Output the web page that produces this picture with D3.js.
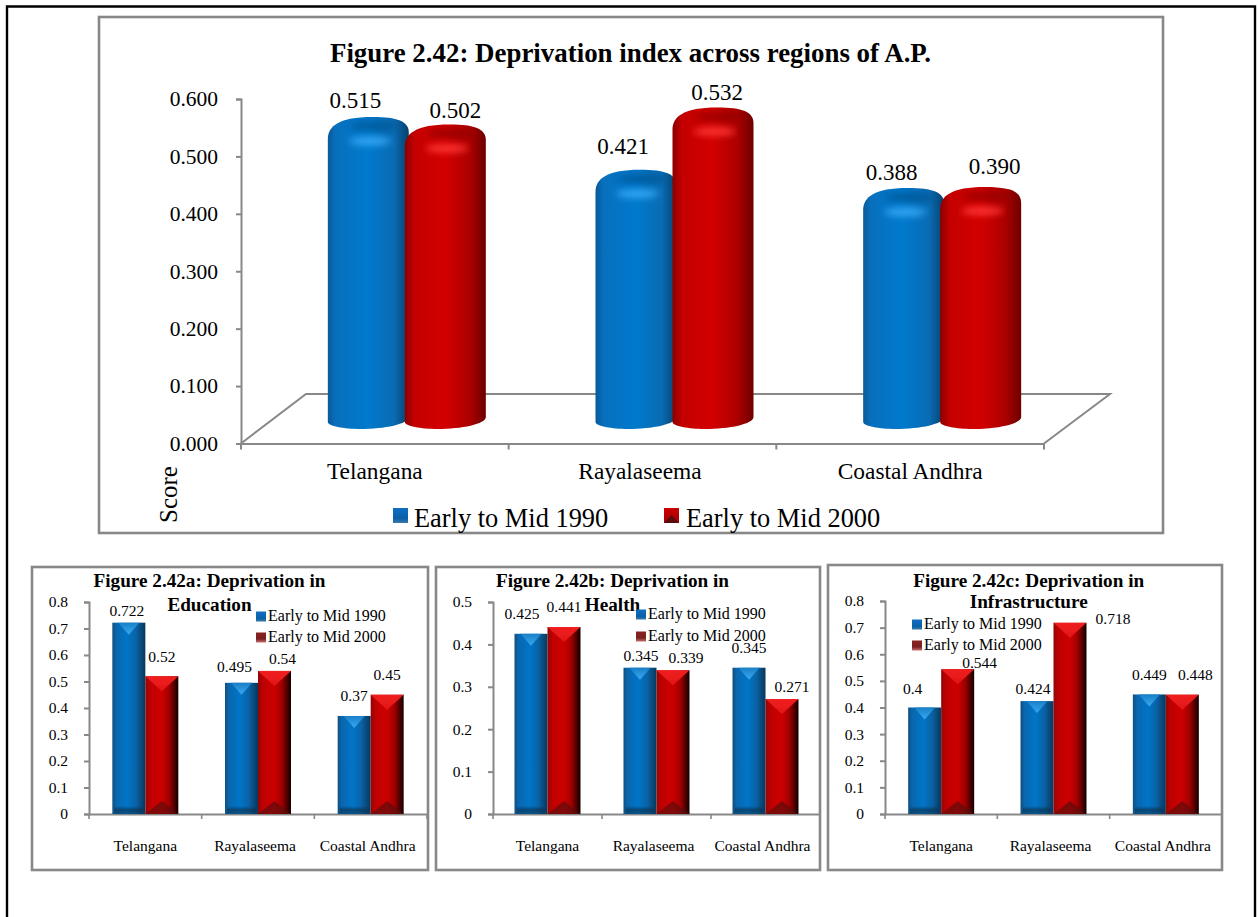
<!DOCTYPE html>
<html>
<head>
<meta charset="utf-8">
<script src="https://cdn.jsdelivr.net/npm/d3@7"></script>
<style>
html,body{margin:0;padding:0;background:#fff;overflow:hidden}
svg{display:block}
text{font-family:"Liberation Serif","Times New Roman",serif;fill:#000}
</style>
</head>
<body>
<svg id="c" width="1259" height="917"></svg>
<script>
// ---- data ----
const categories = ["Telangana", "Rayalaseema", "Coastal Andhra"];
const seriesNames = ["Early to Mid 1990", "Early to Mid 2000"];
const overallEarly = [0.515, 0.421, 0.388];
const overallLate = [0.502, 0.532, 0.390];
const educationEarly = [0.722, 0.495, 0.37];
const educationLate = [0.52, 0.54, 0.45];
const healthEarly = [0.425, 0.345, 0.345];
const healthLate = [0.441, 0.339, 0.271];
const infraEarly = [0.4, 0.424, 0.449];
const infraLate = [0.544, 0.718, 0.448];
const overallTicks = [0, 0.1, 0.2, 0.3, 0.4, 0.5, 0.6];
const eightTicks = [0, 0.1, 0.2, 0.3, 0.4, 0.5, 0.6, 0.7, 0.8];
const fiveTicks = [0, 0.1, 0.2, 0.3, 0.4, 0.5];

// ---- layout (label nudges are [dx, dy] per series and category) ----
const overallShift = [[[-13,-32],[-13,-39],[-12,-31]],[[10,-29],[4,-31],[14,-36]]];
const educationShift = [[[-2,-12],[-7,-16],[0,-20]],[[0,-19],[8,-12],[0,-20]]];
const healthShift = [[[-9,-20],[1,-12],[0,-20]],[[0,-20],[13,-12],[10,-12]]];
const infraShift = [[[-12,-19],[-4,-12],[0,-19]],[[22,-6],[43,-4],[13,-20]]];
const smallLabelNudge = [0, -3, -3];

const svg = d3.select("#c");
const defs = svg.append("defs");
const GRAY = "#888888";

function hGrad(id, stops){
  const g = defs.append("linearGradient").attr("id", id).attr("x1",0).attr("x2",1).attr("y1",0).attr("y2",0);
  stops.forEach(s => g.append("stop").attr("offset", s[0]).attr("stop-color", s[1]));
}
function vGrad(id, stops){
  const g = defs.append("linearGradient").attr("id", id).attr("x1",0).attr("x2",0).attr("y1",0).attr("y2",1);
  stops.forEach(s => g.append("stop").attr("offset", s[0]).attr("stop-color", s[1]).attr("stop-opacity", s[2] === undefined ? 1 : s[2]));
}
hGrad("cylB", [[0,"#0a5a98"],[0.1,"#0870bd"],[0.5,"#0079cd"],[0.82,"#0a6bb2"],[1,"#06406c"]]);
hGrad("cylR", [[0,"#8a0000"],[0.12,"#c40000"],[0.5,"#d20000"],[0.8,"#ac0000"],[1,"#6e0000"]]);
hGrad("barB", [[0,"#10507f"],[0.12,"#0a66ad"],[0.45,"#0075c8"],[0.72,"#0a62a5"],[1,"#07375c"]]);
hGrad("barR", [[0,"#8c0808"],[0.15,"#c00000"],[0.5,"#cc0000"],[0.72,"#a00000"],[1,"#120000"]]);
vGrad("triB", [[0,"#1a80c8"],[1,"#38a8f0"]]);
vGrad("triR", [[0,"#f02020"],[1,"#e21616"]]);
vGrad("baseB", [[0,"#0b3250",0],[0.5,"#0b3250",0.7],[1,"#0b3c60",0.5]]);
vGrad("baseR", [[0,"#4a0a0a",0.6],[1,"#5a1010",0.65]]);
vGrad("swB", [[0,"#0f6fc0"],[0.7,"#0a5fa6"],[1,"#3a7aac"]]);
vGrad("swR", [[0,"#8a2222"],[0.65,"#7a2020"],[1,"#c87070"]]);
vGrad("swMainR", [[0,"#c80000"],[1,"#a80000"]]);
const blur = defs.append("filter").attr("id","soft").attr("x","-40%").attr("y","-100%").attr("width","180%").attr("height","300%");
blur.append("feGaussianBlur").attr("stdDeviation", 3.5);
const blur1 = defs.append("filter").attr("id","soft1");
blur1.append("feGaussianBlur").attr("stdDeviation", 0.5);

// page frame: left, top and right rules only
svg.append("path").attr("d","M7,917V6.5H1255V917").attr("fill","none").attr("stroke","#000").attr("stroke-width",2.4);

function box(x0,y0,x1,y1){
  svg.append("rect").attr("x",x0).attr("y",y0).attr("width",x1-x0).attr("height",y1-y0)
    .attr("fill","#fff").attr("stroke",GRAY).attr("stroke-width",2.6);
}
function styleAxis(g, size){
  g.selectAll("path").attr("stroke",GRAY).attr("stroke-width",2).attr("fill","none");
  g.selectAll("line").attr("stroke",GRAY).attr("stroke-width",2);
  g.selectAll("text").attr("font-family",'"Liberation Serif"').attr("font-size",size).attr("fill","#000");
}

// ---------- main chart ----------
box(99,17,1163,533);
(function(){
  const y = d3.scaleLinear().domain([0,0.6]).range([443.5,99]);
  const barY = d3.scaleLinear().domain([0,0.6]).range([420,84.6]);
  const x = d3.scaleBand().domain(categories).range([241,1044]);
  const sx = d3.scaleBand().domain(seriesNames).range([-77,77]);
  const depthX = 32;

  svg.append("text").attr("x",630.5).attr("y",62).attr("text-anchor","middle")
    .attr("font-size",26.9).attr("font-weight","bold").text("Figure 2.42: Deprivation index across regions of A.P.");

  // floor
  svg.append("path").attr("fill","none").attr("stroke",GRAY).attr("stroke-width",2)
    .attr("d",`M${x.range()[0]},${y(0)}L306,394H1110L${x.range()[1]},${y(0)}`);

  const ya = svg.append("g").attr("transform","translate(241,0)")
    .call(d3.axisLeft(y).tickValues(overallTicks).tickFormat(d3.format(".3f")).tickSize(5).tickSizeOuter(5).tickPadding(18));
  styleAxis(ya,21.5);
  const xa = svg.append("g").attr("transform",`translate(0,${y(0)})`)
    .call(d3.axisBottom(x).tickSize(0).tickPadding(19));
  styleAxis(xa,23.4);
  xa.selectAll(".tick text").attr("dy","0.71em").attr("dx",(d,i)=>[0,-2.5,0][i]);
  svg.append("g").selectAll("line").data(d3.range(categories.length+1)).join("line")
    .attr("x1",i=>x.range()[0]+i*x.step()).attr("x2",i=>x.range()[0]+i*x.step())
    .attr("y1",y(0)).attr("y2",y(0)+6).attr("stroke",GRAY).attr("stroke-width",2);

  svg.append("text").attr("transform","translate(177,523) rotate(-90)").attr("font-size",25).text("Score");

  const rows = [overallEarly, overallLate];
  rows.forEach((vals,s)=>{
    const fill = s===0 ? "cylB" : "cylR";
    const dark = s===0 ? "#00528f" : "#8c0000";
    const glow = s===0 ? "#35a8f5" : "#ff3434";
    vals.forEach((v,c)=>{
      const x0 = x(categories[c]) + x.bandwidth()/2 + depthX + sx(seriesNames[s]) - 2;
      const w = sx.bandwidth() + 4, x1 = x0 + w;
      const yt = barY(v), yb = barY(0);
      const d = `M${x0},${yt+7}C${x0},${yt-6} ${x0+.14*w},${yt-15} ${x0+.55*w},${yt-15}C${x0+.86*w},${yt-15} ${x1},${yt-11} ${x1},${yt+1}L${x1},${yb-3}C${x1},${yb+4} ${x0+.7*w},${yb+9} ${x0+.4*w},${yb+9}C${x0+.2*w},${yb+9} ${x0},${yb+6} ${x0},${yb+2}Z`;
      const cid = `clip${s}${c}`;
      defs.append("clipPath").attr("id",cid).append("path").attr("d",d);
      const g = svg.append("g");
      g.append("path").attr("d",d).attr("fill",`url(#${fill})`);
      const cap = g.append("g").attr("clip-path",`url(#${cid})`);
      cap.append("ellipse").attr("cx",x0+.58*w).attr("cy",yt-6).attr("rx",.3*w).attr("ry",5)
        .attr("fill",dark).attr("opacity",.7).attr("filter","url(#soft)");
      cap.append("ellipse").attr("cx",x0+.52*w).attr("cy",yt+9).attr("rx",.26*w).attr("ry",4)
        .attr("fill",glow).attr("filter","url(#soft)");
      const [dx,dy] = overallShift[s][c];
      svg.append("text").attr("x",x0+w/2+dx).attr("y",yt+dy+8).attr("text-anchor","middle")
        .attr("font-size",23).text(d3.format(".3f")(v));
    });
  });

  // legend
  const lx = [393,664], tx = [414,686];
  seriesNames.forEach((n,i)=>{
    svg.append("rect").attr("x",lx[i]).attr("y",508).attr("width",15).attr("height",15)
      .attr("fill",i===0?"url(#swB)":"url(#swMainR)");
    if(i===1){
      svg.append("path").attr("d",`M${lx[i]},523L${lx[i]+7.5},515L${lx[i]+15},523Z`).attr("fill","#5a0c0c");
    }
    svg.append("text").attr("x",tx[i]).attr("y",527).attr("font-size",26.4).text(n);
  });
})();

// ---------- small charts ----------
function small(o){
  box(o.box[0],o.box[1],o.box[2],o.box[3]);
  const y = d3.scaleLinear().domain([0,d3.max(o.ticks)]).range([814,o.top]);
  const x = d3.scaleBand().domain(categories).range(o.xr);
  const sx = d3.scaleBand().domain(seriesNames).range([-33,33]);

  const ya = svg.append("g").attr("transform",`translate(${o.xr[0]},0)`)
    .call(d3.axisLeft(y).tickValues(o.ticks).tickFormat(d=>d===0?"0":d3.format(".1f")(d)).tickSize(5).tickSizeOuter(5).tickPadding(16));
  styleAxis(ya,15.5);
  const xa = svg.append("g").attr("transform",`translate(0,814)`)
    .call(d3.axisBottom(x).tickSize(0).tickPadding(26));
  styleAxis(xa,15.5);
  xa.selectAll(".tick text").attr("dy","0.71em").attr("dx",(d,i)=>smallLabelNudge[i]);
  svg.append("g").selectAll("line").data(d3.range(categories.length+1)).join("line")
    .attr("x1",i=>o.xr[0]+i*x.step()).attr("x2",i=>o.xr[0]+i*x.step())
    .attr("y1",814).attr("y2",819).attr("stroke",GRAY).attr("stroke-width",1.6);

  [o.early,o.late].forEach((vals,s)=>{
    const tag = s===0 ? "B" : "R";
    vals.forEach((v,c)=>{
      const xx = x(categories[c]) + x.bandwidth()/2 + sx(seriesNames[s]);
      const w = sx.bandwidth(), yt = y(v), yb = y(0), xc = xx + w/2;
      svg.append("rect").attr("x",xx).attr("y",yt).attr("width",w).attr("height",yb-yt).attr("fill",`url(#bar${tag})`);
      svg.append("path").attr("d",`M${xx+(s?0:6)},${yt}L${xc},${yt+(s?15:12)}L${xx+w-(s?0:6)},${yt}Z`)
        .attr("fill",`url(#tri${tag})`).attr("filter","url(#soft1)");
      if(s===0){
        svg.append("rect").attr("x",xx+2).attr("y",yb-8).attr("width",w-4).attr("height",8).attr("fill","url(#baseB)");
      } else {
        svg.append("path").attr("d",`M${xx},${yb}L${xc},${yb-13}L${xx+w},${yb}Z`).attr("fill","url(#baseR)");
      }
      const [dx,dy] = o.shift[s][c];
      svg.append("text").attr("x",xc+dx).attr("y",yt+dy+5).attr("text-anchor","middle")
        .attr("font-size",15.5).text(String(v));
    });
  });

  // title sits above the plot
  o.title.forEach((t,i)=>{
    svg.append("text").attr("x",o.titleX).attr("y",o.titleY[i]).attr("text-anchor","middle")
      .attr("font-size",19.2).attr("font-weight","bold").text(t);
  });
  seriesNames.forEach((n,i)=>{
    svg.append("rect").attr("x",o.legX).attr("y",o.legY[i]-9.5).attr("width",10).attr("height",10)
      .attr("fill",i===0?"url(#swB)":"url(#swR)");
    svg.append("text").attr("x",o.legX+12).attr("y",o.legY[i]).attr("font-size",16).text(n);
  });
}

small({box:[32,567,428,870],xr:[89,427],top:602,ticks:eightTicks,early:educationEarly,late:educationLate,shift:educationShift,
  title:["Figure 2.42a: Deprivation in","Education"],titleX:209.5,titleY:[587,611],legX:256,legY:[621,642]});
small({box:[436,567,820,870],xr:[493,820],top:602,ticks:fiveTicks,early:healthEarly,late:healthLate,shift:healthShift,
  title:["Figure 2.42b: Deprivation in","Health"],titleX:612.5,titleY:[587,611],legX:636,legY:[619,641]});
small({box:[828,565,1222,870],xr:[885,1222],top:601,ticks:eightTicks,early:infraEarly,late:infraLate,shift:infraShift,
  title:["Figure 2.42c: Deprivation in","Infrastructure"],titleX:1028.7,titleY:[587,608],legX:912,legY:[629,650]});
</script>
</body>
</html>
